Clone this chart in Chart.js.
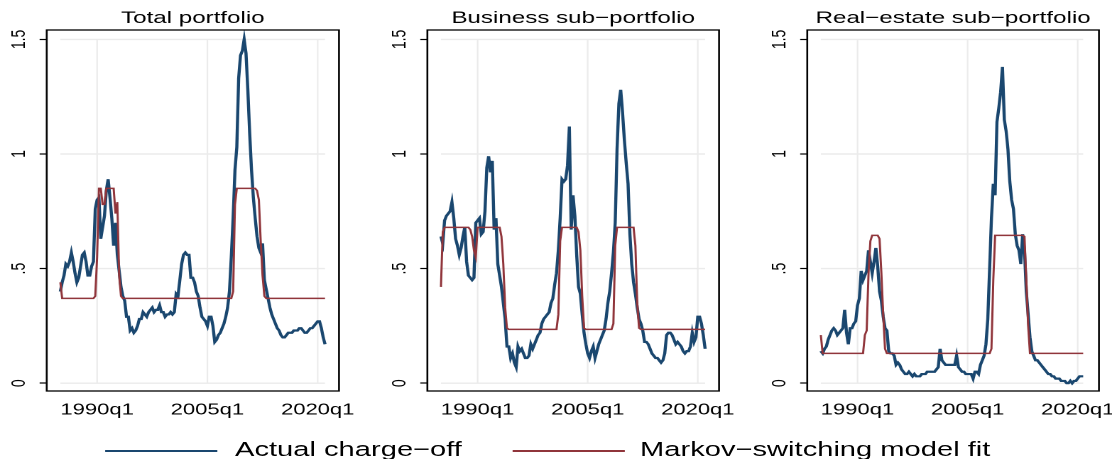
<!DOCTYPE html>
<html>
<head>
<meta charset="utf-8">
<script src="https://cdn.jsdelivr.net/npm/chart.js@4.4.1/dist/chart.umd.min.js"></script>
<style>
  html, body { margin: 0; padding: 0; background: #fff; overflow: hidden; width: 1112px; height: 459px; }
  /* the reference is stretched sideways, so the whole figure is drawn narrow and widened */
  #fig { position: relative; width: 800px; height: 459px; transform: scaleX(1.4202); transform-origin: 0 0;
         font-family: "Liberation Sans", Arial, Helvetica, sans-serif; }
  .panel { position: absolute; top: 0; height: 420px; }
  .leg-line { position: absolute; top: 450px; width: 79px; height: 0; border-top: 2px solid; }
  .leg-text { position: absolute; top: 438.6px; font-size: 20.5px; line-height: 1; white-space: nowrap; color: #000; }
</style>
</head>
<body>
<div id="fig">
  <div class="panel" style="left:0;width:261px"><canvas id="c1"></canvas></div>
  <div class="panel" style="left:261px;width:261px"><canvas id="c2"></canvas></div>
  <div class="panel" style="left:522px;width:275px"><canvas id="c3"></canvas></div>

  <div class="leg-line" style="left:73.9px;border-color:#1a476f"></div>
  <div class="leg-text" style="left:165.5px">Actual charge−off</div>
  <div class="leg-line" style="left:361.2px;border-color:#90353b"></div>
  <div class="leg-text" style="left:450.7px">Markov−switching model fit</div>
</div>

<script>
// ── Charge-off rates, quarterly 1985q1 – 2021q1 ─────────────────────
const quarters = Array.from({ length: 145 }, (_, i) => 1985 + i / 4);

const xTickValues = [1990, 2005, 2020];
const xTickLabels = ['1990q1', '2005q1', '2020q1'];
const yTickValues = [0, 0.5, 1, 1.5];
const yTickLabels = ['0', '.5', '1', '1.5'];

const panelTitles = ['Total portfolio', 'Business sub−portfolio', 'Real−estate sub−portfolio'];
const seriesNames = ['Actual charge−off', 'Markov−switching model fit'];

const totalActual = [
  0.40, 0.44, 0.47, 0.52, 0.51, 0.53, 0.57, 0.53, 0.48, 0.44,
  0.46, 0.51, 0.56, 0.57, 0.53, 0.47, 0.47, 0.51, 0.53, 0.76,
  0.80, 0.81, 0.63, 0.68, 0.73, 0.84, 0.89, 0.81, 0.72, 0.60,
  0.70, 0.56, 0.49, 0.42, 0.38, 0.36, 0.29, 0.29, 0.23, 0.24,
  0.22, 0.23, 0.25, 0.28, 0.28, 0.31, 0.30, 0.29, 0.31, 0.32,
  0.33, 0.31, 0.32, 0.32, 0.34, 0.31, 0.31, 0.29, 0.30, 0.30,
  0.31, 0.30, 0.31, 0.39, 0.38, 0.45, 0.52, 0.56, 0.57, 0.56,
  0.56, 0.46, 0.46, 0.44, 0.40, 0.38, 0.33, 0.29, 0.28, 0.27,
  0.25, 0.29, 0.29, 0.25, 0.18, 0.19, 0.21, 0.22, 0.24, 0.26,
  0.29, 0.33, 0.40, 0.55, 0.72, 0.93, 1.03, 1.33, 1.43, 1.45,
  1.50, 1.44, 1.28, 1.09, 0.93, 0.81, 0.72, 0.64, 0.59, 0.57,
  0.61, 0.45, 0.41, 0.37, 0.33, 0.30, 0.28, 0.26, 0.24, 0.23,
  0.21, 0.20, 0.20, 0.21, 0.22, 0.22, 0.22, 0.23, 0.23, 0.23,
  0.24, 0.24, 0.23, 0.22, 0.22, 0.23, 0.24, 0.24, 0.25, 0.26,
  0.27, 0.27, 0.24, 0.20, 0.17
];
const totalFit = [
  0.44, 0.37, 0.37, 0.37, 0.37, 0.37, 0.37, 0.37, 0.37, 0.37,
  0.37, 0.37, 0.37, 0.37, 0.37, 0.37, 0.37, 0.37, 0.37, 0.38,
  0.55, 0.85, 0.85, 0.78, 0.78, 0.85, 0.85, 0.85, 0.85, 0.85,
  0.74, 0.79, 0.47, 0.38, 0.37, 0.37, 0.37, 0.37, 0.37, 0.37,
  0.37, 0.37, 0.37, 0.37, 0.37, 0.37, 0.37, 0.37, 0.37, 0.37,
  0.37, 0.37, 0.37, 0.37, 0.37, 0.37, 0.37, 0.37, 0.37, 0.37,
  0.37, 0.37, 0.37, 0.37, 0.37, 0.37, 0.37, 0.37, 0.37, 0.37,
  0.37, 0.37, 0.37, 0.37, 0.37, 0.37, 0.37, 0.37, 0.37, 0.37,
  0.37, 0.37, 0.37, 0.37, 0.37, 0.37, 0.37, 0.37, 0.37, 0.37,
  0.37, 0.37, 0.37, 0.37, 0.40, 0.78, 0.85, 0.85, 0.85, 0.85,
  0.85, 0.85, 0.85, 0.85, 0.85, 0.85, 0.85, 0.84, 0.80, 0.62,
  0.47, 0.38, 0.37, 0.37, 0.37, 0.37, 0.37, 0.37, 0.37, 0.37,
  0.37, 0.37, 0.37, 0.37, 0.37, 0.37, 0.37, 0.37, 0.37, 0.37,
  0.37, 0.37, 0.37, 0.37, 0.37, 0.37, 0.37, 0.37, 0.37, 0.37,
  0.37, 0.37, 0.37, 0.37, 0.37
];

const busActual = [
  0.64, 0.61, 0.71, 0.73, 0.74, 0.75, 0.79, 0.72, 0.63, 0.60,
  0.56, 0.59, 0.64, 0.68, 0.53, 0.47, 0.46, 0.45, 0.46, 0.70,
  0.71, 0.72, 0.65, 0.66, 0.75, 0.94, 0.99, 0.92, 0.97, 0.67,
  0.72, 0.52, 0.47, 0.42, 0.35, 0.28, 0.16, 0.16, 0.11, 0.13,
  0.09, 0.07, 0.16, 0.14, 0.15, 0.13, 0.11, 0.11, 0.12, 0.17,
  0.15, 0.17, 0.19, 0.21, 0.22, 0.26, 0.28, 0.29, 0.30, 0.31,
  0.35, 0.37, 0.43, 0.48, 0.58, 0.72, 0.89, 0.88, 0.89, 0.95,
  1.12, 0.67, 0.82, 0.73, 0.56, 0.42, 0.39, 0.30, 0.22, 0.17,
  0.13, 0.11, 0.14, 0.16, 0.11, 0.14, 0.17, 0.19, 0.21, 0.23,
  0.28, 0.35, 0.40, 0.48, 0.57, 0.70, 1.02, 1.22, 1.28, 1.18,
  1.06, 0.96, 0.87, 0.65, 0.52, 0.44, 0.39, 0.33, 0.28, 0.26,
  0.23, 0.18, 0.18, 0.17, 0.15, 0.13, 0.12, 0.11, 0.11, 0.10,
  0.09, 0.10, 0.13, 0.21, 0.22, 0.22, 0.21, 0.19, 0.17, 0.18,
  0.17, 0.16, 0.14, 0.13, 0.14, 0.14, 0.16, 0.22, 0.18, 0.20,
  0.29, 0.29, 0.26, 0.21, 0.15
];
const busFit = [
  0.42, 0.66, 0.68, 0.68, 0.68, 0.68, 0.68, 0.68, 0.68, 0.68,
  0.68, 0.68, 0.68, 0.68, 0.68, 0.68, 0.67, 0.64, 0.58, 0.55,
  0.68, 0.68, 0.68, 0.68, 0.68, 0.68, 0.68, 0.68, 0.68, 0.68,
  0.68, 0.68, 0.68, 0.64, 0.52, 0.33, 0.24, 0.235, 0.235, 0.235,
  0.235, 0.235, 0.235, 0.235, 0.235, 0.235, 0.235, 0.235, 0.235, 0.235,
  0.235, 0.235, 0.235, 0.235, 0.235, 0.235, 0.235, 0.235, 0.235, 0.235,
  0.235, 0.235, 0.235, 0.235, 0.30, 0.62, 0.68, 0.68, 0.68, 0.68,
  0.68, 0.68, 0.68, 0.68, 0.68, 0.66, 0.58, 0.38, 0.24, 0.235,
  0.235, 0.235, 0.235, 0.235, 0.235, 0.235, 0.235, 0.235, 0.235, 0.235,
  0.235, 0.235, 0.235, 0.235, 0.26, 0.60, 0.68, 0.68, 0.68, 0.68,
  0.68, 0.68, 0.68, 0.68, 0.68, 0.68, 0.60, 0.35, 0.24, 0.235,
  0.235, 0.235, 0.235, 0.235, 0.235, 0.235, 0.235, 0.235, 0.235, 0.235,
  0.235, 0.235, 0.235, 0.235, 0.235, 0.235, 0.235, 0.235, 0.235, 0.235,
  0.235, 0.235, 0.235, 0.235, 0.235, 0.235, 0.235, 0.235, 0.235, 0.235,
  0.235, 0.235, 0.235, 0.235, 0.235
];

const reActual = [
  0.14, 0.13, 0.15, 0.16, 0.19, 0.21, 0.23, 0.24, 0.23, 0.21,
  0.22, 0.23, 0.24, 0.32, 0.22, 0.17, 0.24, 0.24, 0.26, 0.27,
  0.34, 0.37, 0.49, 0.45, 0.47, 0.49, 0.58, 0.53, 0.48, 0.53,
  0.59, 0.51, 0.40, 0.36, 0.29, 0.24, 0.23, 0.14, 0.13, 0.13,
  0.12, 0.08, 0.09, 0.08, 0.06, 0.05, 0.04, 0.04, 0.05, 0.04,
  0.03, 0.04, 0.03, 0.03, 0.03, 0.04, 0.04, 0.04, 0.05, 0.05,
  0.05, 0.05, 0.05, 0.06, 0.07, 0.15, 0.10, 0.09, 0.08, 0.08,
  0.08, 0.08, 0.08, 0.08, 0.12, 0.07, 0.06, 0.05, 0.05, 0.04,
  0.04, 0.04, 0.04, 0.02, 0.05, 0.05, 0.04, 0.08, 0.10, 0.12,
  0.17, 0.28, 0.50, 0.72, 0.87, 0.82, 1.14, 1.20, 1.27, 1.38,
  1.15, 1.10, 1.02, 0.88, 0.80, 0.76, 0.65, 0.60, 0.58, 0.52,
  0.65, 0.58, 0.40, 0.30, 0.20, 0.14, 0.12, 0.10, 0.10, 0.09,
  0.08, 0.07, 0.06, 0.05, 0.04, 0.04, 0.03, 0.03, 0.02, 0.02,
  0.02, 0.01, 0.01, 0.01, 0.00, 0.00, 0.01, 0.00, 0.01, 0.01,
  0.02, 0.03, 0.03, 0.03
];
const reFit = [
  0.21, 0.13, 0.13, 0.13, 0.13, 0.13, 0.13, 0.13, 0.13, 0.13,
  0.13, 0.13, 0.13, 0.13, 0.13, 0.13, 0.13, 0.13, 0.13, 0.13,
  0.13, 0.13, 0.13, 0.13, 0.21, 0.23, 0.48, 0.62, 0.645, 0.645,
  0.645, 0.645, 0.63, 0.48, 0.30, 0.15, 0.13, 0.13, 0.13, 0.13,
  0.13, 0.13, 0.13, 0.13, 0.13, 0.13, 0.13, 0.13, 0.13, 0.13,
  0.13, 0.13, 0.13, 0.13, 0.13, 0.13, 0.13, 0.13, 0.13, 0.13,
  0.13, 0.13, 0.13, 0.13, 0.13, 0.13, 0.13, 0.13, 0.13, 0.13,
  0.13, 0.13, 0.13, 0.13, 0.13, 0.13, 0.13, 0.13, 0.13, 0.13,
  0.13, 0.13, 0.13, 0.13, 0.13, 0.13, 0.13, 0.13, 0.13, 0.13,
  0.13, 0.13, 0.13, 0.15, 0.45, 0.645, 0.645, 0.645, 0.645, 0.645,
  0.645, 0.645, 0.645, 0.645, 0.645, 0.645, 0.645, 0.645, 0.645, 0.645,
  0.645, 0.64, 0.45, 0.25, 0.13, 0.13, 0.13, 0.13, 0.13, 0.13,
  0.13, 0.13, 0.13, 0.13, 0.13, 0.13, 0.13, 0.13, 0.13, 0.13,
  0.13, 0.13, 0.13, 0.13, 0.13, 0.13, 0.13, 0.13, 0.13, 0.13,
  0.13, 0.13, 0.13, 0.13
];

const BLUE = '#1a476f';
const RED = '#90353b';
const FONT = '"Liberation Sans", Arial, Helvetica, sans-serif';

// light grid over the data range only, plus the black box round the plot
const stataFrame = {
  id: 'stataFrame',
  beforeDatasetsDraw(chart, args, opts) {
    const { ctx, scales: { x, y } } = chart;
    const x0 = x.getPixelForValue(opts.xFrom);
    const x1 = x.getPixelForValue(opts.xTo);
    const y0 = y.getPixelForValue(yTickValues[0]);
    const y1 = y.getPixelForValue(yTickValues[yTickValues.length - 1]);
    ctx.save();
    ctx.strokeStyle = '#ebebeb';
    ctx.lineWidth = 1.4;
    yTickValues.forEach(v => {
      const py = y.getPixelForValue(v);
      ctx.beginPath(); ctx.moveTo(x0, py); ctx.lineTo(x1, py); ctx.stroke();
    });
    ctx.lineWidth = 1.1;
    xTickValues.forEach(v => {
      const px = x.getPixelForValue(v);
      ctx.beginPath(); ctx.moveTo(px, y0); ctx.lineTo(px, y1); ctx.stroke();
    });
    ctx.restore();
  },
  afterDraw(chart) {
    const { ctx, chartArea: a } = chart;
    ctx.save();
    ctx.strokeStyle = '#000';
    ctx.lineWidth = 1.3;
    ctx.strokeRect(a.left, a.top, a.right - a.left, a.bottom - a.top);
    ctx.restore();
  }
};

const panels = [
  { canvas: 'c1', actual: totalActual, fit: totalFit, axisWidth: 32.9, padRight: 22.3 },
  { canvas: 'c2', actual: busActual,   fit: busFit,   axisWidth: 39.9, padRight: 15.7 },
  { canvas: 'c3', actual: reActual,    fit: reFit,    axisWidth: 46.4, padRight: 23.2 }
];

panels.forEach((p, i) => {
  new Chart(document.getElementById(p.canvas), {
    type: 'line',
    data: {
      labels: quarters,
      datasets: [
        { label: seriesNames[0], data: p.actual, borderColor: BLUE, borderWidth: 2.2,
          pointRadius: 0, tension: 0, order: 1 },
        { label: seriesNames[1], data: p.fit, borderColor: RED, borderWidth: 1.5,
          pointRadius: 0, tension: 0, order: 0 }
      ]
    },
    options: {
      responsive: true,
      maintainAspectRatio: false,
      animation: false,
      devicePixelRatio: 2,
      layout: { padding: { left: 0, right: p.padRight, top: 0, bottom: 0 } },
      plugins: {
        legend: { display: false },
        tooltip: { enabled: false },
        title: {
          display: true,
          text: panelTitles[i],
          fullSize: false,
          color: '#000',
          font: { family: FONT, size: 17, weight: 'normal', lineHeight: 1.2 },
          padding: { top: 7.9, bottom: 1.7 }
        },
        stataFrame: { xFrom: quarters[0], xTo: quarters[p.actual.length - 1] }
      },
      scales: {
        x: {
          type: 'linear',
          min: 1983.15,
          max: 2022.9,
          afterBuildTicks: s => { s.ticks = xTickValues.map(v => ({ value: v })); },
          afterFit: s => { s.height = 29; },
          grid: { display: false },
          border: { display: false },
          ticks: {
            autoSkip: false, maxRotation: 0, padding: 2, color: '#000',
            font: { family: FONT, size: 15.5 },
            callback: (v, idx) => xTickLabels[idx]
          }
        },
        y: {
          min: -0.034,
          max: 1.541,
          afterBuildTicks: s => { s.ticks = yTickValues.map(v => ({ value: v })); },
          afterFit: s => { s.width = p.axisWidth; },
          grid: { display: true, drawOnChartArea: false, drawTicks: true, tickLength: 5,
                  tickColor: '#000', tickWidth: 1.2 },
          border: { display: false },
          ticks: {
            autoSkip: false, minRotation: 90, maxRotation: 90, crossAlign: 'center',
            padding: 4.5, color: '#000',
            font: { family: FONT, size: 14 },
            callback: (v, idx) => yTickLabels[idx]
          }
        }
      }
    },
    plugins: [stataFrame]
  });
});
</script>
</body>
</html>
